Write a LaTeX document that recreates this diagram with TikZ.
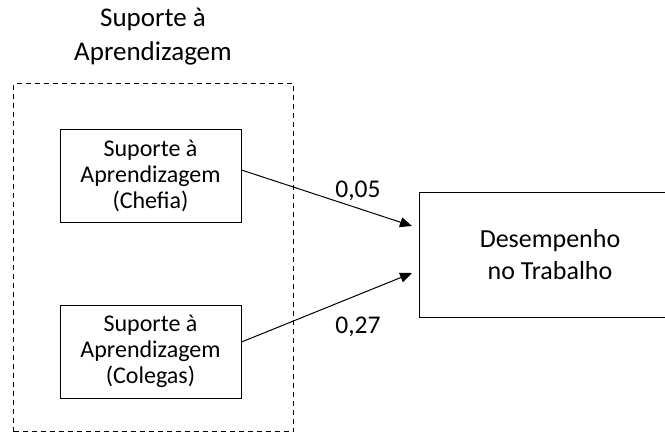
\documentclass[tikz,border=0pt]{standalone}
\usepackage{fontspec}
\setmainfont{Carlito}
\usetikzlibrary{arrows.meta}
\begin{document}
\begin{tikzpicture}[x=1pt,y=-1pt,
  box/.style={draw, line width=1pt, inner sep=0pt, align=center},
  conn/.style={draw, line width=1pt, -{Triangle[length=12pt,width=10pt]}},
  lbl/.style={font=\fontsize{25.5}{28}\selectfont}]
\useasboundingbox (0,0) rectangle (665,432);
\node[draw, dashed, line width=1pt, dash pattern=on 5pt off 4pt, minimum width=280pt, minimum height=348pt, anchor=north west] (group) at (13,83) {};
\node[align=center, font=\fontsize{27}{34}\selectfont] (title) at (153,37) {Suporte à\\Aprendizagem};
\node[box, minimum width=181pt, minimum height=93pt, font=\fontsize{24}{26}\selectfont] (chefia) at (150.5,175.5) {Suporte à\\Aprendizagem\\(Chefia)};
\node[box, minimum width=181pt, minimum height=93pt, font=\fontsize{24}{26}\selectfont] (colegas) at (150.5,351.5) {Suporte à\\Aprendizagem\\(Colegas)};
\node[box, minimum width=262pt, minimum height=125pt, font=\fontsize{26}{32}\selectfont] (desemp) at (550,254.5) {Desempenho\\no Trabalho};
\coordinate (t1) at (412,226);
\coordinate (t2) at (412,273);
\draw[conn] (chefia.east |- 0,170) -- (t1);
\draw[conn] (colegas.east |- 0,342) -- (t2);
\node[lbl] (l1) at (358,191) {0,05};
\node[lbl] (l2) at (358,327) {0,27};
\end{tikzpicture}
\end{document}
